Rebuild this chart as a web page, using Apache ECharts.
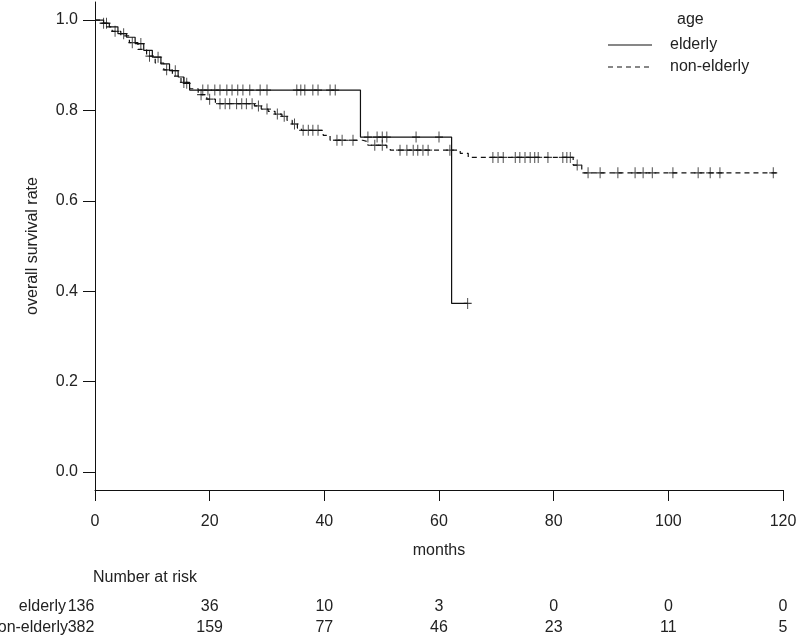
<!DOCTYPE html>
<html>
<head>
<meta charset="utf-8">
<script src="https://cdn.jsdelivr.net/npm/echarts@6/dist/echarts.min.js"></script>
<style>
  html, body { margin: 0; padding: 0; background: #fff; }
  #chart { width: 800px; height: 637px; }
</style>
</head>
<body>
<div id="chart"></div>
<script>
// x ticks (months) and number at risk
const riskTimes = [0, 20, 40, 60, 80, 100, 120];
const riskElderly = [136, 36, 10, 3, 0, 0, 0];
const riskNonElderly = [382, 159, 77, 46, 23, 11, 5];
const yTicks = [0, 0.2, 0.4, 0.6, 0.8, 1.0];

// Kaplan-Meier steps, elderly
const elderlyTime = [0, 1.5, 2.5, 4, 5.5, 7, 8.5, 10, 11.5, 13, 14.5, 15.5, 16.5, 46.3, 62.2];
const elderlySurv = [1.0, 0.993, 0.985, 0.970, 0.962, 0.948, 0.933, 0.918, 0.903, 0.888, 0.874, 0.860, 0.845, 0.741, 0.373];
const elderlyEnd = 65;
const elderlyCensor = [2, 5, 8, 11, 14, 16, 18.8, 19.7, 20.9, 21.8, 23.0, 23.9, 24.9, 25.8, 27.0, 28.8, 30.0,
  35.2, 35.9, 36.6, 38.0, 38.9, 41.0, 41.9, 47.6, 49.2, 50.1, 50.9, 56.0, 60.0, 65];

// Kaplan-Meier steps, non-elderly
const nonElderlyTime = [0, 1, 2, 3, 4.5, 6, 7.5, 9, 10.5, 12, 13.5, 15, 16.5, 18, 19.5, 21,
  27.8, 29, 30.2, 31.4, 32.6, 33.5, 34.4, 35.3, 36, 39.8, 41, 46.7, 47.6, 50.9, 51.5, 63.7, 65.1, 83.4, 84.9];
const nonElderlySurv = [1.0, 0.993, 0.985, 0.975, 0.965, 0.950, 0.935, 0.920, 0.905, 0.890, 0.876, 0.862, 0.848, 0.835, 0.825, 0.815,
  0.810, 0.803, 0.798, 0.792, 0.787, 0.778, 0.770, 0.761, 0.756, 0.745, 0.734, 0.731, 0.723, 0.717, 0.712, 0.705, 0.696, 0.679, 0.662];
const nonElderlyEnd = 119;
const nonElderlyCensor = [1.5, 3.5, 6.5, 9.5, 12.5, 15.5, 18.5, 20, 21.8, 22.7, 23.5, 24.7, 25.6, 26.4, 27.4,
  28.5, 30, 31.8, 33, 34.8, 36.3, 37.2, 38.0, 38.9, 42.2, 43.1, 45.0, 48.8, 50.1,
  53.2, 54.4, 55.5, 56.3, 57.2, 58.1, 61.9, 69.4, 70.3, 71.2, 73.3, 74.1, 75.0, 75.9, 76.7, 77.3, 79.0,
  81.6, 82.3, 82.9, 84.1, 86.0, 88.1, 91.2, 94.2, 95.6, 97.2, 100.8, 105.2, 107.3, 109.0, 118.3];

function stepAt(times, surv, t) {
  let v = surv[0];
  for (let i = 0; i < times.length; i++) {
    if (times[i] <= t) v = surv[i];
  }
  return v;
}
function curve(times, surv, end) {
  const pts = times.map((t, i) => [t, surv[i]]);
  pts.push([end, surv[surv.length - 1]]);
  return pts;
}
function marks(times, surv, cens) {
  return cens.map((t) => [t, stepAt(times, surv, t)]);
}

const ink = "#111";
const textColor = "#222";
const font = "Liberation Sans";
const censorSymbol = "path://M5,0L5,10M0,5L10,5";

const chart = echarts.init(document.getElementById("chart"), null, { renderer: "canvas" });

chart.setOption({
  animation: false,
  backgroundColor: "#fff",
  grid: { left: 95, right: 17, top: 2, bottom: 147 },
  xAxis: {
    type: "value",
    min: 0,
    max: 120,
    interval: 20,
    name: "months",
    nameLocation: "middle",
    nameGap: 53,
    nameTextStyle: { color: textColor, fontSize: 16, fontFamily: font },
    axisLine: { onZero: false, lineStyle: { color: ink, width: 1 } },
    axisTick: { length: 11, lineStyle: { color: ink } },
    axisLabel: { margin: 24, color: textColor, fontSize: 16, fontFamily: font },
    splitLine: { show: false },
  },
  yAxis: {
    type: "value",
    min: -0.04,
    max: 1.04,
    name: "overall survival rate",
    nameLocation: "middle",
    nameGap: 54,
    nameTextStyle: { color: textColor, fontSize: 16, fontFamily: font },
    axisLine: { show: true, lineStyle: { color: ink, width: 1 } },
    axisTick: { show: true, length: 12, customValues: yTicks, lineStyle: { color: ink } },
    axisLabel: {
      margin: 17,
      customValues: yTicks,
      color: textColor,
      fontSize: 16,
      fontFamily: font,
      formatter: (v) => v.toFixed(1),
    },
    splitLine: { show: false },
  },
  series: [
    {
      name: "elderly",
      type: "line",
      step: "end",
      showSymbol: false,
      data: curve(elderlyTime, elderlySurv, elderlyEnd),
      lineStyle: { color: ink, width: 1.2 },
    },
    {
      name: "non-elderly",
      type: "line",
      step: "end",
      showSymbol: false,
      data: curve(nonElderlyTime, nonElderlySurv, nonElderlyEnd),
      lineStyle: { color: ink, width: 1.2, type: [5, 4] },
    },
    {
      name: "elderly censored",
      type: "scatter",
      symbol: censorSymbol,
      symbolSize: [8, 11],
      data: marks(elderlyTime, elderlySurv, elderlyCensor),
      itemStyle: { color: "none", borderColor: ink, borderWidth: 1.1 },
    },
    {
      name: "non-elderly censored",
      type: "scatter",
      symbol: censorSymbol,
      symbolSize: [8, 11],
      data: marks(nonElderlyTime, nonElderlySurv, nonElderlyCensor),
      itemStyle: { color: "none", borderColor: ink, borderWidth: 1.1 },
    },
  ],
});

// legend + number at risk table
const txt = (x, y, text, align) => ({
  type: "text",
  x: x,
  y: y,
  style: {
    text: text,
    fill: textColor,
    font: "16px " + font,
    align: align || "left",
    verticalAlign: "middle",
  },
});

const graphics = [
  txt(677, 20, "age"),
  { type: "line", shape: { x1: 608, y1: 45, x2: 652, y2: 45 }, style: { stroke: ink, lineWidth: 1.2 } },
  { type: "line", shape: { x1: 608, y1: 67, x2: 652, y2: 67 }, style: { stroke: ink, lineWidth: 1.2, lineDash: [5, 4] } },
  txt(670, 45, "elderly"),
  txt(670, 67, "non-elderly"),
  txt(93, 578, "Number at risk"),
  txt(66, 607, "elderly", "right"),
  txt(68, 628, "non-elderly", "right"),
];
riskTimes.forEach((t, i) => {
  let x = chart.convertToPixel({ xAxisIndex: 0 }, t);
  if (i === 0) x = 81;
  graphics.push(txt(x, 607, String(riskElderly[i]), "center"));
  graphics.push(txt(x, 628, String(riskNonElderly[i]), "center"));
});
chart.setOption({ graphic: graphics });
</script>
</body>
</html>
